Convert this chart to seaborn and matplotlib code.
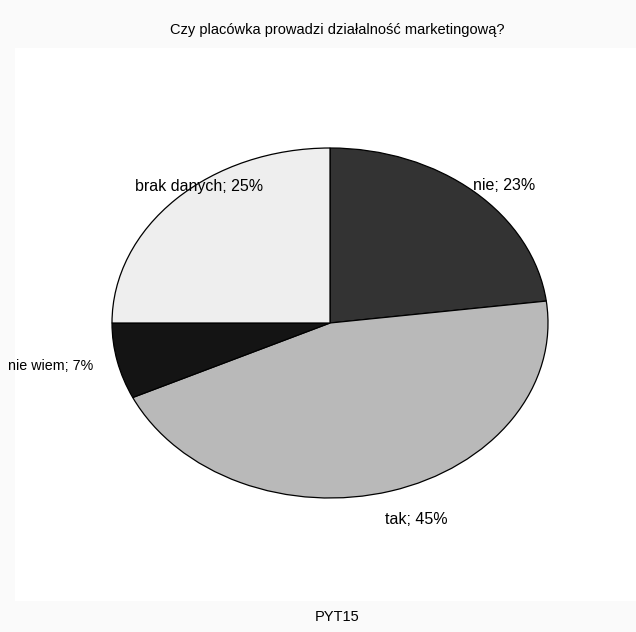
import matplotlib
matplotlib.use("Agg")
import matplotlib.pyplot as plt
from matplotlib.patches import Rectangle
import seaborn as sns

# Survey answers, clockwise from 12 o'clock
categories = ["nie", "tak", "nie wiem", "brak danych"]
shares = [23, 45, 7, 25]
slice_colors = ["#333333", "#b9b9b9", "#141414", "#eeeeee"]

title = "Czy placówka prowadzi działalność marketingową?"
footer = "PYT15"

sns.set_theme(style="white")
plt.rcParams["font.family"] = ["Liberation Sans Narrow", "Liberation Sans", "DejaVu Sans"]
plt.rcParams["text.color"] = "black"

fig = plt.figure(figsize=(6.36, 6.32), dpi=100)
fig.patch.set_facecolor("#fafafa")

W, H = 636, 632
# white plotting panel, kept behind the pie axes
panel = Rectangle((15 / W, (H - 601) / H), 1 - 15 / W, (601 - 48) / H,
                  transform=fig.transFigure, facecolor="white",
                  edgecolor="none", zorder=-5)
fig.add_artist(panel)

fig.text(337 / W, 1 - 30 / H, title, ha="center", va="center", fontsize=10.5)
fig.text(337 / W, 1 - 617 / H, footer, ha="center", va="center", fontsize=10.5)

# stretched pie: axes box sized to an ellipse
cx, cy, rx, ry = 330, 323, 218, 175
ax = fig.add_axes([(cx - rx) / W, (H - cy - ry) / H, 2 * rx / W, 2 * ry / H], zorder=2)
ax.patch.set_alpha(0)
ax.pie(shares, colors=slice_colors, startangle=90, counterclock=False,
       wedgeprops=dict(edgecolor="black", linewidth=0.9))
ax.set_aspect("auto")
ax.set_xlim(-1, 1)
ax.set_ylim(-1, 1)
ax.axis("off")

labels = [f"{c}; {v}%" for c, v in zip(categories, shares)]
label_pos = {
    "nie": (473, 186, "left", 11.5),
    "tak": (385, 520, "left", 11.5),
    "nie wiem": (8, 366, "left", 10.3),
    "brak danych": (263, 186, "right", 11.5),
}
for cat, lab in zip(categories, labels):
    x, y, ha, fs = label_pos[cat]
    fig.text(x / W, 1 - y / H, lab, ha=ha, va="center", fontsize=fs, zorder=3)

fig.savefig("out.png", dpi=100, facecolor=fig.get_facecolor())
